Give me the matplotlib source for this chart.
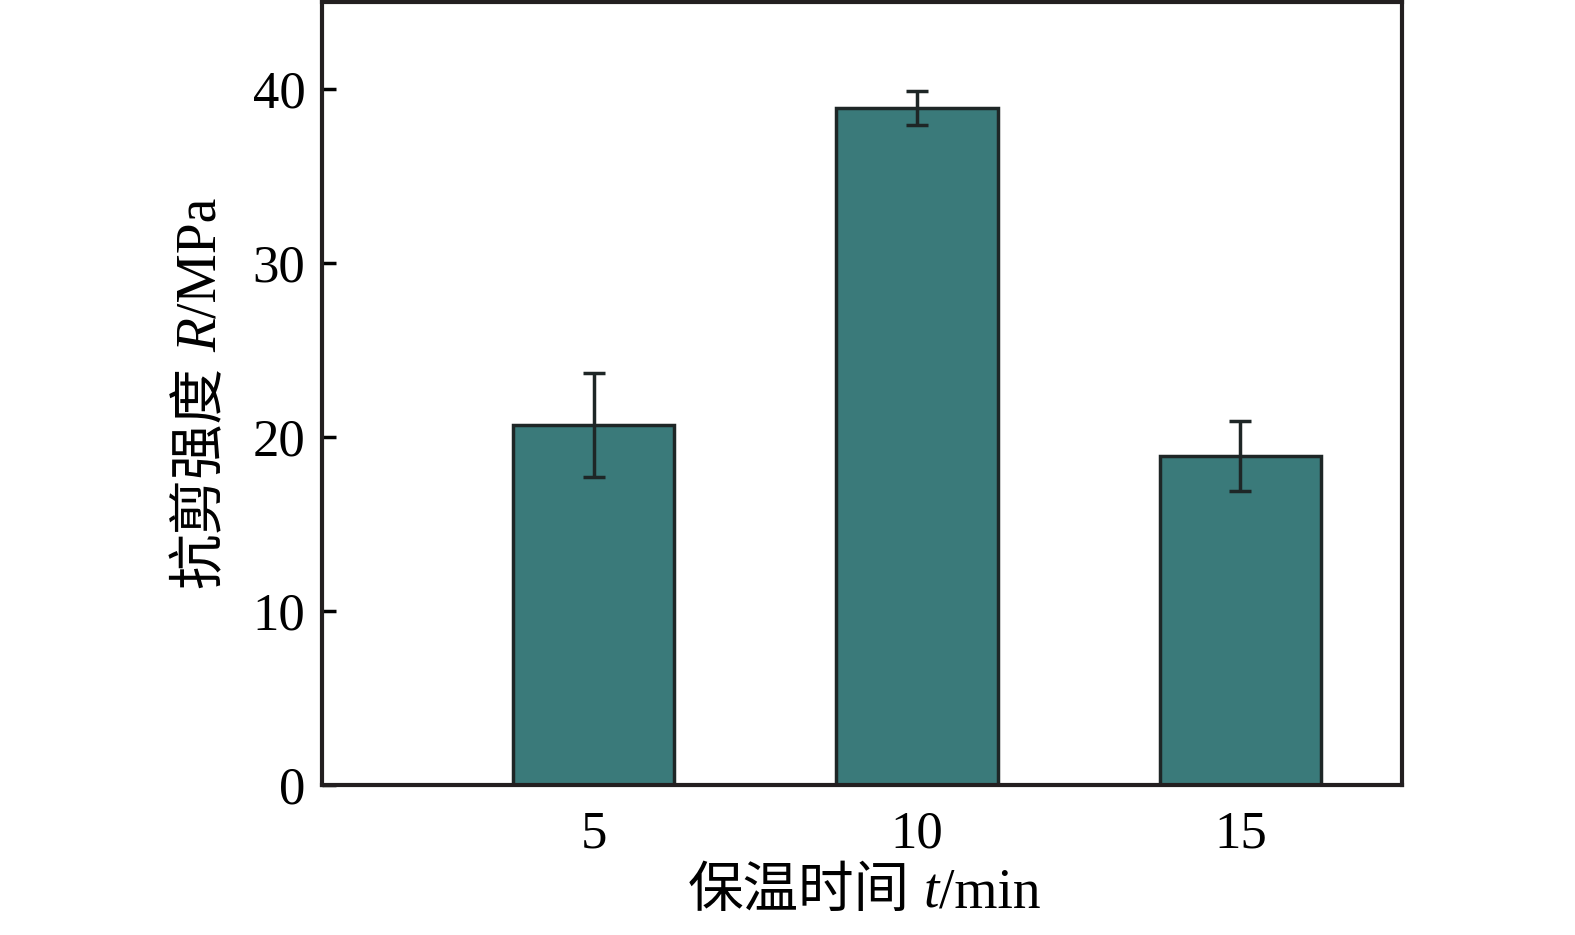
import matplotlib.pyplot as plt

# 数据
hold_time = [5, 10, 15]
strength = [20.7, 38.9, 18.9]
strength_err = [3.0, 1.0, 2.0]

SERIF = 'Liberation Serif'
CJK = 'Noto Sans CJK SC'
FS = 38
LABEL_FS = 40

plt.rcParams['font.family'] = [SERIF, CJK]

fig = plt.figure(figsize=(15.75, 9.35), dpi=100)
ax = fig.add_axes([0.2044, 0.1604, 0.6858, 0.8376])

ax.bar(hold_time, strength, width=2.5, color='#3a7a7a', edgecolor='#1e2626',
       linewidth=2.5, yerr=strength_err, capsize=8,
       error_kw=dict(ecolor='#1e2626', elinewidth=2.5, capthick=2.5))

ax.set_xlim(0.8, 17.5)
ax.set_ylim(0, 45)
ax.set_xticks(hold_time)
ax.set_yticks([0, 10, 20, 30, 40])
ax.tick_params(axis='x', length=0, pad=18, labelsize=FS)
ax.tick_params(axis='y', direction='in', length=10, width=2.5, pad=12, labelsize=FS)
for s in ax.spines.values():
    s.set_linewidth(3)
    s.set_color('#231f20')


# 中文 + 斜体字母 拼接标签（像素坐标，基线对齐）
def draw_label(pieces, cx, cy, vertical=False):
    renderer = fig.canvas.get_renderer()
    texts, lengths = [], []
    for s, fam, style in pieces:
        t = fig.text(0, 0, s, fontsize=LABEL_FS, family=fam, style=style,
                     rotation=90 if vertical else 0, rotation_mode='anchor',
                     ha='left', va='baseline', transform=None)
        bb = t.get_window_extent(renderer)
        lengths.append(bb.height if vertical else bb.width)
        texts.append(t)
    pos = -sum(lengths) / 2
    for t, L in zip(texts, lengths):
        t.set_position((cx, cy + pos) if vertical else (cx + pos, cy))
        pos += L


draw_label([('保温时间', CJK, 'normal'), (' ', SERIF, 'normal'),
            ('t', SERIF, 'italic'), ('/min', SERIF, 'normal')],
           864, 28)
draw_label([('抗剪强度', CJK, 'normal'), (' ', SERIF, 'normal'),
            ('R', SERIF, 'italic'), ('/MPa', SERIF, 'normal')],
           216, 542, vertical=True)

fig.savefig('out.png', dpi=100)
